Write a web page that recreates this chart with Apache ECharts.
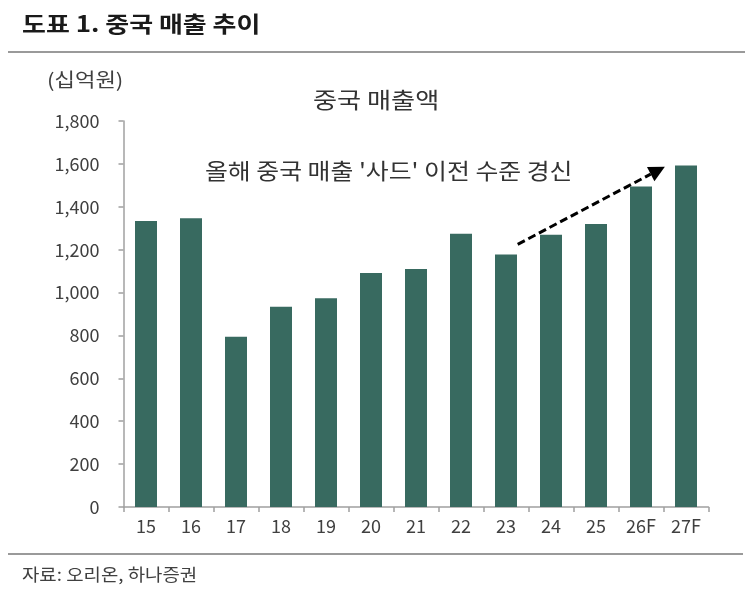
<!DOCTYPE html>
<html><head><meta charset="utf-8">
<script src="https://cdn.jsdelivr.net/npm/echarts@6/dist/echarts.min.js"></script>
<style>html,body{margin:0;padding:0;background:#fff}#c{width:753px;height:589px}</style>
</head><body><div id="c"></div>
<script>
var categories = ['15','16','17','18','19','20','21','22','23','24','25','26F','27F'];
var sales = [1334, 1346, 794, 934, 973, 1091, 1110, 1274, 1178, 1270, 1320, 1495, 1593];
var yTicks = [0, 200, 400, 600, 800, 1000, 1200, 1400, 1600, 1800];
var seriesName = '중국 매출액';
var titleText = '도표 1. 중국 매출 추이';
var unitText = '(십억원)';
var noteText = "올해 중국 매출 '사드' 이전 수준 경신";
var sourceText = '자료: 오리온, 하나증권';
var arrowFrom = ['23', 1225, 0.26];
var arrowTo = ['26F', 1587, 0.53];

var FONT = '"Noto Sans CJK KR", "Noto Sans", sans-serif';
var chart = echarts.init(document.getElementById('c'), null, {renderer: 'canvas'});
function txt(s, x, y, font, fill, sx) {
  return {type: 'text', x: x, y: y, scaleX: sx, scaleY: 1,
    style: {text: s, font: font, fill: fill, align: 'left', verticalAlign: 'top'}};
}
var option = {
  animation: false,
  backgroundColor: '#fff',
  grid: {left: 123.5, right: 44.5, top: 121, bottom: 82, containLabel: false},
  xAxis: {
    type: 'category', data: categories,
    axisLine: {lineStyle: {color: '#a0a0a0', width: 1.5}},
    axisTick: {show: true, length: 5, lineStyle: {color: '#a0a0a0', width: 1.5}},
    axisLabel: {color: '#404040', fontSize: 18, fontFamily: FONT, margin: 10}
  },
  yAxis: {
    type: 'value', min: yTicks[0], max: yTicks[yTicks.length - 1], interval: 200,
    axisLine: {show: true, lineStyle: {color: '#a0a0a0', width: 1.5}},
    axisTick: {show: true, length: 5, lineStyle: {color: '#a0a0a0', width: 1.5}},
    splitLine: {show: false},
    axisLabel: {color: '#404040', fontSize: 18, fontFamily: FONT, margin: 24,
      formatter: function (v) { return v.toLocaleString('en-US'); }}
  },
  series: [{
    name: seriesName, type: 'bar', data: sales, barWidth: 22,
    itemStyle: {color: '#386a60'}
  }],
  graphic: [
    txt(titleText, 22, 13, 'bold 22px ' + FONT, '#1a1a1a', 1.18),
    {type: 'line', shape: {x1: 8, y1: 52, x2: 745, y2: 52}, style: {stroke: '#9a9a9a', lineWidth: 2}},
    txt(unitText, 47, 70, '19px ' + FONT, '#404040', 1.17),
    txt(seriesName, 313, 89, '22px ' + FONT, '#333', 1.19),
    txt(noteText, 205, 160, '22px ' + FONT, '#333', 1.13),
    {type: 'line', shape: {x1: 8, y1: 554, x2: 743, y2: 554}, style: {stroke: '#9a9a9a', lineWidth: 2}},
    txt(sourceText, 22, 566, '17px ' + FONT, '#404040', 1.11)
  ]
};
chart.setOption(option);

function px(spec) {
  var i = categories.indexOf(spec[0]);
  var p = chart.convertToPixel({xAxisIndex: 0, yAxisIndex: 0}, [i, spec[1]]);
  var q = chart.convertToPixel({xAxisIndex: 0, yAxisIndex: 0}, [i + 1, spec[1]]);
  return [p[0] + spec[2] * (q[0] - p[0]), p[1]];
}
var a = px(arrowFrom), b = px(arrowTo);
var dx = b[0] - a[0], dy = b[1] - a[1], L = Math.sqrt(dx * dx + dy * dy);
var ux = dx / L, uy = dy / L, head = 16, hw = 8;
var bx = b[0] - ux * head, by = b[1] - uy * head;
chart.setOption({graphic: option.graphic.concat([
  {type: 'line', shape: {x1: a[0], y1: a[1], x2: bx, y2: by}, style: {stroke: '#000', lineWidth: 3, lineDash: [8, 4]}},
  {type: 'polygon', shape: {points: [[b[0], b[1]], [bx - uy * hw, by + ux * hw], [bx + uy * hw, by - ux * hw]]}, style: {fill: '#000'}}
])});
</script></body></html>
